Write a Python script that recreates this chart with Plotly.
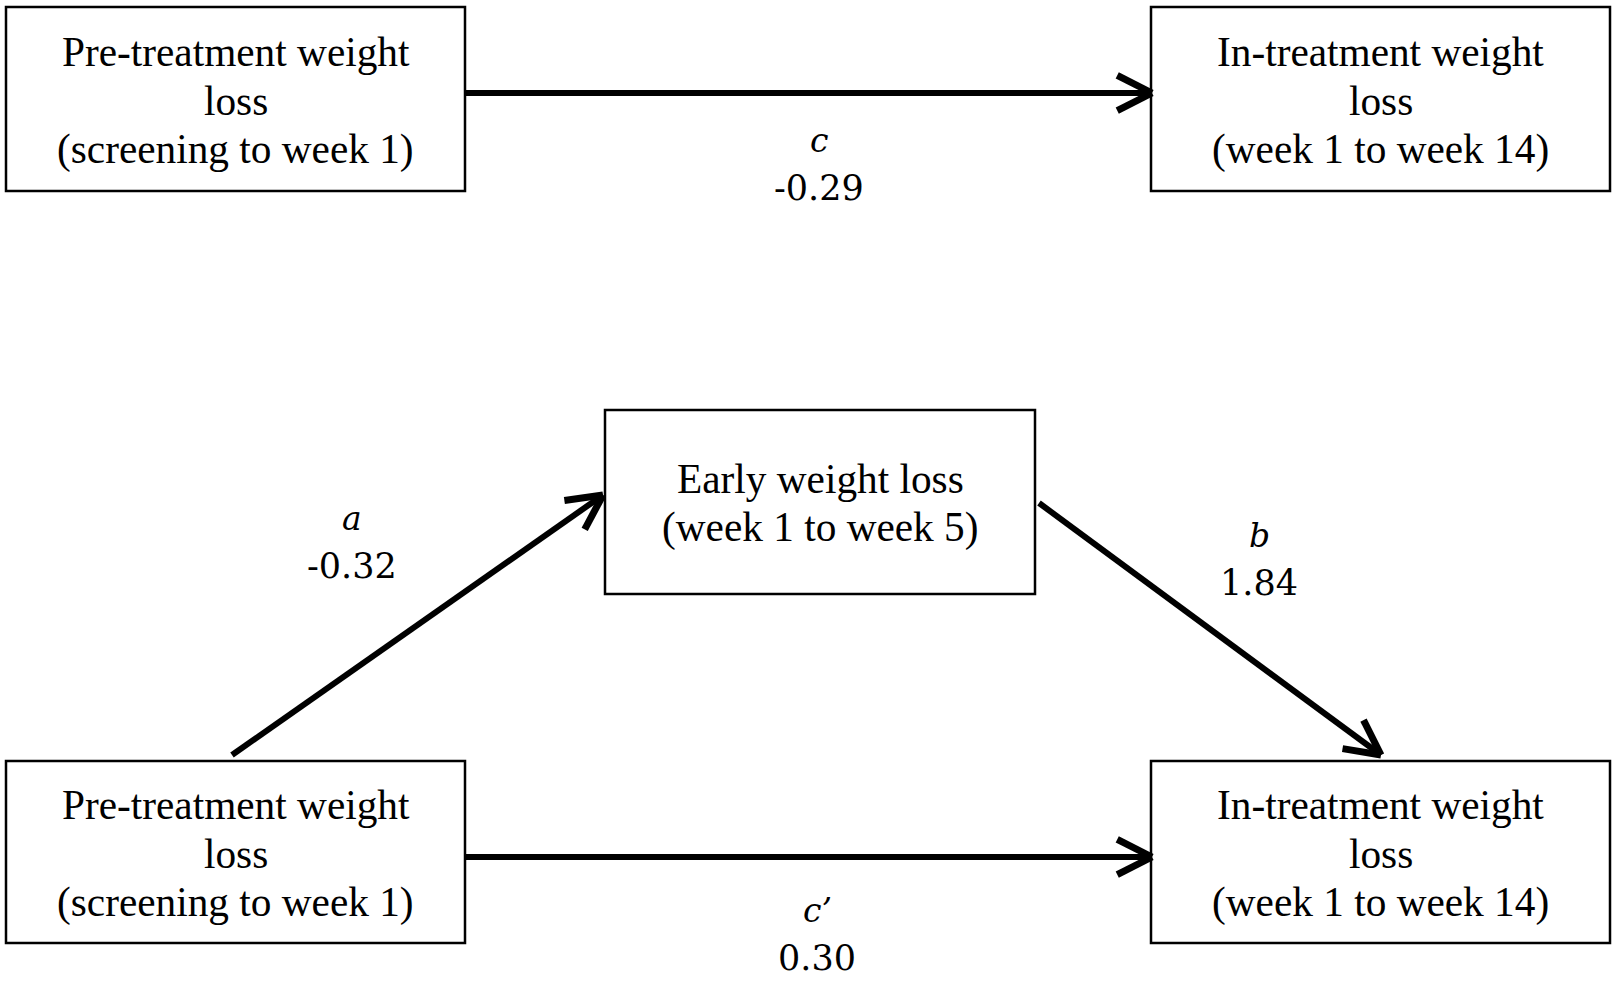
import numpy as np
import plotly.graph_objects as go

# node labels (one list of lines per box)
box_labels = [
    ["Pre-treatment weight", "loss", "(screening to week 1)"],
    ["In-treatment weight", "loss", "(week 1 to week 14)"],
    ["Early weight loss", "(week 1 to week 5)"],
    ["Pre-treatment weight", "loss", "(screening to week 1)"],
    ["In-treatment weight", "loss", "(week 1 to week 14)"],
]

# path names and coefficients
path_names = ["c", "a", "b", "c\u2019"]
path_coefs = [-0.29, -0.32, 1.84, 0.30]

# layout of the diagram (pixels, y down)
box_pos = [
    (6, 465, 7, 191),
    (1151, 1610, 7, 191),
    (605, 1035, 410, 594),
    (6, 465, 761, 943),
    (1151, 1610, 761, 943),
]
arrow_pos = [
    ((465, 93), (1152, 93)),
    ((232, 755), (603, 495)),
    ((1039, 503), (1381, 755)),
    ((465, 857), (1152, 857)),
]
label_pos = [(819, 140), (352, 518), (1259, 535), (817, 910)]

W, H = 1616, 984
LINE_GAP = 48.5
fig = go.Figure()

for (x0, x1, y0, y1), lines in zip(box_pos, box_labels):
    fig.add_shape(type="rect", x0=x0, x1=x1, y0=y0, y1=y1,
                  line=dict(color="black", width=2.5), fillcolor="white", layer="below")
    cy = (y0 + y1) / 2 + 1.5
    n = len(lines)
    for i, txt in enumerate(lines):
        fig.add_annotation(x=(x0 + x1) / 2, y=cy + (i - (n - 1) / 2) * LINE_GAP,
                           text=txt, showarrow=False,
                           font=dict(family="Liberation Serif", size=41.3, color="black"),
                           xanchor="center", yanchor="middle")

head_len, head_ang = 39, np.radians(27)
for (p0, p1) in arrow_pos:
    fig.add_trace(go.Scatter(x=[p0[0], p1[0]], y=[p0[1], p1[1]], mode="lines",
                             line=dict(color="black", width=6), hoverinfo="skip"))
    ang = np.arctan2(p1[1] - p0[1], p1[0] - p0[0])
    hx, hy = [], []
    for s in (1, -1):
        a = ang + np.pi + s * head_ang
        hx += [p1[0] + head_len * np.cos(a), p1[0], None]
        hy += [p1[1] + head_len * np.sin(a), p1[1], None]
    fig.add_trace(go.Scatter(x=hx, y=hy, mode="lines",
                             line=dict(color="black", width=7), hoverinfo="skip"))

for (lx, ly), name, coef in zip(label_pos, path_names, path_coefs):
    fig.add_annotation(x=lx, y=ly, text=f"<i>{name}</i>", showarrow=False,
                       font=dict(family="DejaVu Serif", size=33, color="black"))
    fig.add_annotation(x=lx, y=ly + 48, text=f"{coef:.2f}", showarrow=False,
                       font=dict(family="DejaVu Serif", size=35, color="black"))

fig.update_xaxes(range=[0, W], visible=False, fixedrange=True)
fig.update_yaxes(range=[H, 0], visible=False, fixedrange=True)
fig.update_layout(width=W, height=H, margin=dict(l=0, r=0, t=0, b=0),
                  plot_bgcolor="white", paper_bgcolor="white", showlegend=False)

fig.write_html("out.html", config={"displayModeBar": False},
               post_script="document.body.style.margin='0';document.body.style.overflow='hidden';")
